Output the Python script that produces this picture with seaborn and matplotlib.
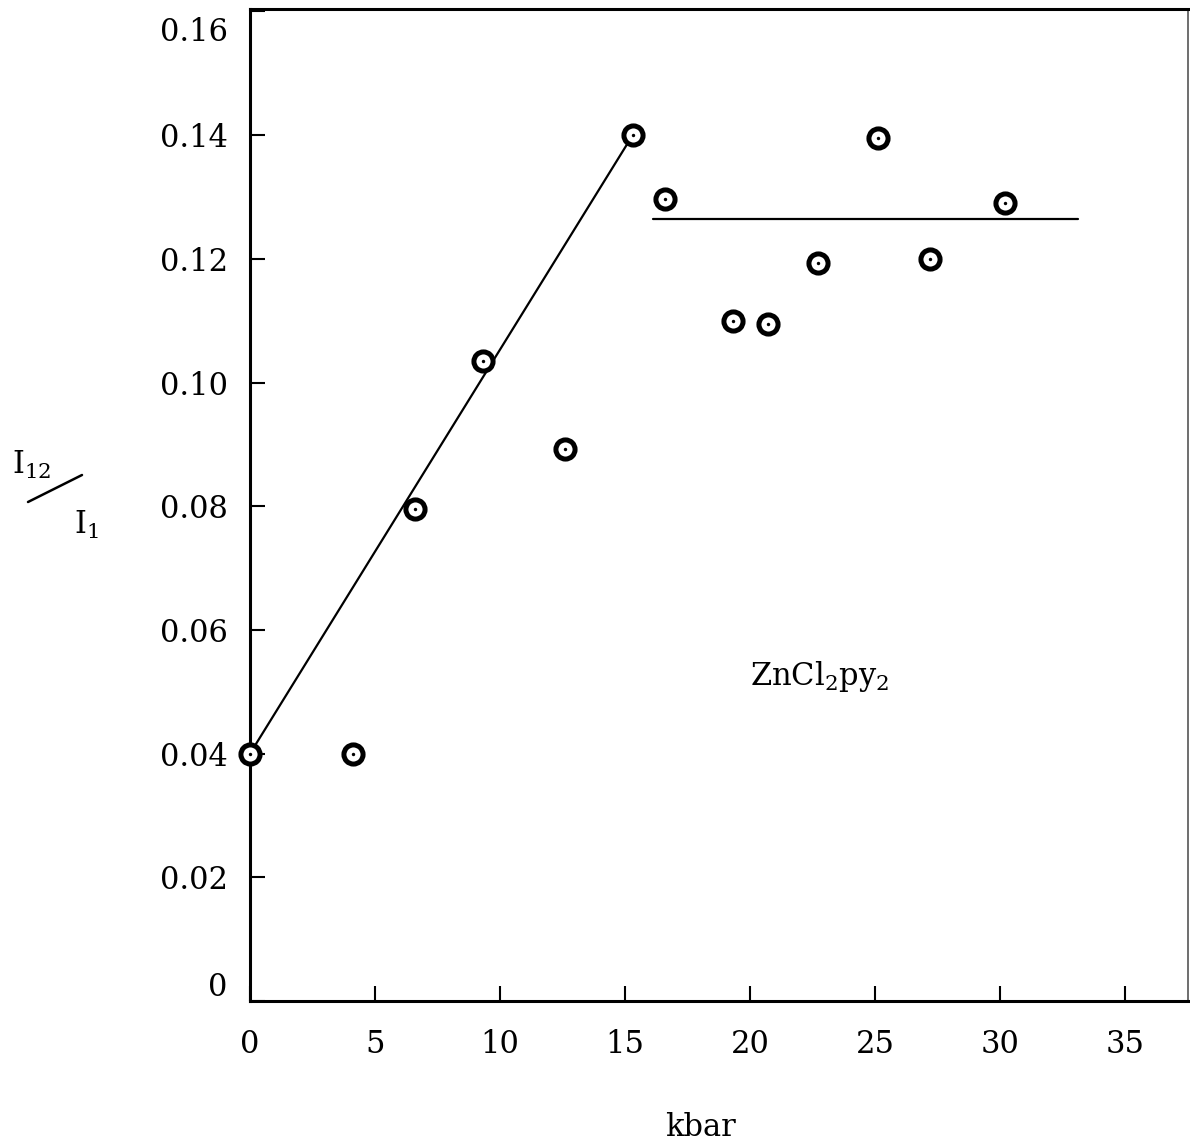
import numpy as np
import pandas as pd
import matplotlib
matplotlib.use("Agg")
import matplotlib.pyplot as plt
import matplotlib.transforms as mtransforms
import seaborn as sns

# Measured intensity ratio I12/I1 versus pressure
pressure_kbar = [0.0, 4.1, 6.6, 9.3, 12.6, 15.3, 16.6, 19.3, 20.7, 22.7, 25.1, 27.2, 30.2]
ratio = [0.040, 0.040, 0.0795, 0.1035, 0.0892, 0.140, 0.1296, 0.110, 0.1095, 0.1194, 0.1395, 0.120, 0.129]

# Guide lines: linear rise, then plateau
rise_x = [0.0, 15.3]
rise_y = [0.040, 0.140]
plateau_x = [16.1, 33.1]
plateau_y = [0.1265, 0.1265]

x_ticks = [0, 5, 10, 15, 20, 25, 30, 35]
y_ticks = [0.0, 0.02, 0.04, 0.06, 0.08, 0.10, 0.12, 0.14, 0.16]
y_tick_labels = ["0", "0.02", "0.04", "0.06", "0.08", "0.10", "0.12", "0.14", "0.16"]

sns.set_theme(style="white", rc={"text.color": "black", "axes.labelcolor": "black",
                                  "xtick.color": "black", "ytick.color": "black",
                                  "xtick.bottom": True, "ytick.left": True})
plt.rcParams["font.family"] = ["DejaVu Serif"]
plt.rcParams["mathtext.fontset"] = "dejavuserif"

df = pd.DataFrame({"kbar": pressure_kbar, "ratio": ratio})

fig = plt.figure(figsize=(11.9, 11.48), dpi=100)
ax = fig.add_axes([250 / 1190, 1 - 1001 / 1148, 938 / 1190, 992 / 1148])

sns.lineplot(x=rise_x, y=rise_y, ax=ax, color="black", linewidth=1.6)
sns.lineplot(x=plateau_x, y=plateau_y, ax=ax, color="black", linewidth=1.6)

sns.scatterplot(data=df, x="kbar", y="ratio", ax=ax, marker="o", s=190,
                facecolor="white", edgecolor="black", linewidth=3.6,
                clip_on=False, zorder=5)
sns.scatterplot(data=df, x="kbar", y="ratio", ax=ax, marker="o", s=6,
                color="black", linewidth=0, clip_on=False, zorder=6)

ax.set_xlim(0, 37.5)
ax.set_ylim(0, 0.1604)
ax.set_xticks(x_ticks)
ax.set_yticks(y_ticks)
ax.set_yticklabels(y_tick_labels)
ax.set_xlabel("")
ax.set_ylabel("")

ax.tick_params(axis="both", direction="in", length=11, width=1.5, colors="black",
               labelsize=22, bottom=True, left=True, top=False, right=False)
ax.tick_params(axis="x", pad=20)
ax.tick_params(axis="y", pad=16)

# Nudge the end labels of the y axis so they sit inside the frame
for lbl, val in zip(ax.get_yticklabels(), y_ticks):
    if val == 0.16:
        lbl.set_transform(lbl.get_transform() +
                          mtransforms.ScaledTranslation(0, -0.18, fig.dpi_scale_trans))
    if val == 0.0:
        lbl.set_transform(lbl.get_transform() +
                          mtransforms.ScaledTranslation(0, 0.17, fig.dpi_scale_trans))

for side in ["left", "bottom", "top"]:
    ax.spines[side].set_linewidth(2.2)
    ax.spines[side].set_color("black")
ax.spines["right"].set_linewidth(1.2)
ax.spines["right"].set_color("#555555")

ax.text(20.0, 0.0525, r"ZnCl$_2$py$_2$", fontsize=22, ha="left", va="center",
        color="black")

fig.text(700 / 1190, 1 - 1128 / 1148, "kbar", fontsize=22, ha="center", va="center",
         color="black")

# y-axis quantity written as a slashed fraction
fig.text(32 / 1190, 1 - 465 / 1148, r"I$_{12}$", fontsize=22, ha="center", va="center",
         color="black")
fig.add_artist(plt.Line2D([28 / 1190, 82 / 1190], [1 - 502 / 1148, 1 - 475 / 1148],
                          transform=fig.transFigure, color="black", linewidth=1.8))
fig.text(86 / 1190, 1 - 525 / 1148, r"I$_1$", fontsize=22, ha="center", va="center",
         color="black")

fig.savefig("out.png", dpi=100)
